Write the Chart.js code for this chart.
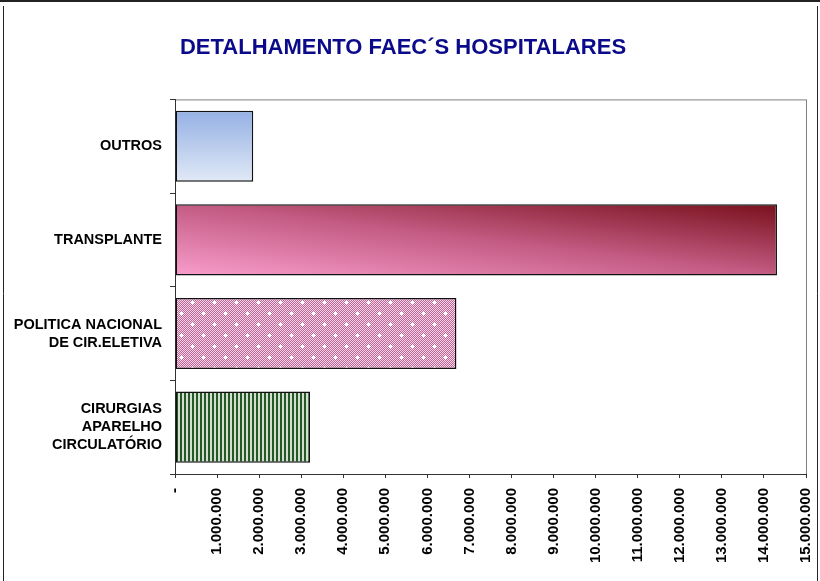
<!DOCTYPE html>
<html>
<head>
<meta charset="utf-8">
<script src="https://cdn.jsdelivr.net/npm/chart.js@4/dist/chart.umd.min.js"></script>
<style>
  body { margin: 0; background: #fff; }
  canvas { display: block; }
</style>
</head>
<body>
<canvas id="myChart" width="820" height="581"></canvas>
<script>
const categories = ['OUTROS', 'TRANSPLANTE', ['POLITICA NACIONAL', 'DE CIR.ELETIVA'], ['CIRURGIAS', 'APARELHO', 'CIRCULATÓRIO']];
const values = [1860000, 14310000, 6690000, 3210000];
const xMax = 15000000;
const xStep = 1000000;

function fmt(v){
  if (v === 0) return '-';
  return String(v).replace(/\B(?=(\d{3})+(?!\d))/g, '.');
}

function dotPattern(){
  const c = document.createElement('canvas');
  c.width = 22; c.height = 22;
  const g = c.getContext('2d');
  for (let y = 0; y < 22; y++) {
    for (let x = 0; x < 22; x++) {
      g.fillStyle = (x + y) % 2 ? '#c2649a' : '#f4d6e6';
      g.fillRect(x, y, 1, 1);
    }
  }
  g.fillStyle = '#ffffff';
  [[5, 5], [16, 16]].forEach(function(p){
    g.fillRect(p[0] - 2, p[1], 5, 1);
    g.fillRect(p[0], p[1] - 2, 1, 5);
    g.fillRect(p[0] - 1, p[1] - 1, 3, 3);
  });
  return g.createPattern(c, 'repeat');
}

function stripePattern(){
  const c = document.createElement('canvas');
  c.width = 4; c.height = 4;
  const g = c.getContext('2d');
  g.fillStyle = '#d3ded0';
  g.fillRect(0, 0, 4, 4);
  g.fillStyle = '#245824';
  g.fillRect(0, 0, 2, 4);
  return g.createPattern(c, 'repeat');
}

function barBox(chart, i){
  const xs = chart.scales.x, ys = chart.scales.y;
  const x0 = xs.getPixelForValue(0), x1 = xs.getPixelForValue(values[i]);
  const yc = ys.getPixelForValue(i);
  const h = (ys.height / categories.length) * 0.76;
  return {x0: x0, x1: x1, y0: yc - h / 2, y1: yc + h / 2};
}

function barFill(context){
  const chart = context.chart;
  const i = context.dataIndex;
  if (!chart.chartArea) return '#ccc';
  const ctx = chart.ctx;
  const b = barBox(chart, i);
  if (i === 0) {
    const g = ctx.createLinearGradient(0, b.y0, 0, b.y1);
    g.addColorStop(0, '#94b0e4');
    g.addColorStop(1, '#e1e9f6');
    return g;
  }
  if (i === 1) {
    const W = b.x1 - b.x0, H = b.y1 - b.y0;
    const k = 2 * W * H / (W * W + H * H);
    const g = ctx.createLinearGradient(b.x0, b.y1, b.x0 + H * k, b.y1 - W * k);
    g.addColorStop(0, '#f89dcc');
    g.addColorStop(0.5, '#c45c84');
    g.addColorStop(1, '#78101c');
    return g;
  }
  if (i === 2) return dotPattern();
  return stripePattern();
}

const frame = {
  id: 'frame',
  beforeDraw(chart){
    const ctx = chart.ctx;
    ctx.save();
    ctx.strokeStyle = '#222';
    ctx.lineWidth = 2;
    ctx.beginPath();
    ctx.moveTo(0, 1); ctx.lineTo(820, 1);
    ctx.stroke();
    ctx.lineWidth = 1;
    ctx.beginPath();
    ctx.moveTo(3.5, 6); ctx.lineTo(3.5, 581);
    ctx.moveTo(817.5, 6); ctx.lineTo(817.5, 581);
    ctx.stroke();
    const a = chart.chartArea;
    ctx.strokeStyle = '#808080';
    ctx.strokeRect(a.left + 0.5, a.top + 0.5, a.right - a.left, a.bottom - a.top);
    ctx.restore();
  }
};

const ctx = document.getElementById('myChart').getContext('2d');
const myChart = new Chart(ctx, {
  type: 'bar',
  data: {
    labels: categories,
    datasets: [{
      data: values,
      backgroundColor: barFill,
      borderColor: '#111',
      borderWidth: 1.5,
      borderSkipped: false,
      barPercentage: 0.76,
      categoryPercentage: 1
    }]
  },
  options: {
    indexAxis: 'y',
    responsive: false,
    animation: false,
    layout: { padding: { left: 0, right: 14, top: 0, bottom: 0 } },
    plugins: {
      legend: { display: false },
      tooltip: { enabled: false },
      title: {
        display: true,
        text: 'DETALHAMENTO FAEC´S HOSPITALARES',
        color: '#0a0a8a',
        font: { family: 'Arial, "Liberation Sans", sans-serif', size: 22, weight: 'bold' },
        padding: { top: 35, bottom: 38 }
      }
    },
    scales: {
      x: {
        min: 0,
        max: xMax,
        afterFit(scale){
          scale.height = 107;
          scale.paddingRight = 0;
          scale.paddingLeft = 0;
        },
        border: { color: '#333', width: 1 },
        grid: { drawOnChartArea: false, drawTicks: true, tickLength: 4, color: '#333' },
        ticks: {
          stepSize: xStep,
          minRotation: 90,
          maxRotation: 90,
          autoSkip: false,
          color: '#000',
          padding: 10,
          font: { family: 'Arial, "Liberation Sans", sans-serif', size: 15, weight: 'bold' },
          callback: function(v){ return fmt(v); }
        }
      },
      y: {
        afterFit(scale){ scale.width = 175; },
        border: { color: '#333', width: 1 },
        grid: { drawOnChartArea: false, drawTicks: true, tickLength: 5, offset: true, color: '#333' },
        ticks: {
          color: '#000',
          padding: 8,
          font: { family: 'Arial, "Liberation Sans", sans-serif', size: 14.5, weight: 'bold', lineHeight: 1.24 }
        }
      }
    }
  },
  plugins: [frame]
});
</script>
</body>
</html>
